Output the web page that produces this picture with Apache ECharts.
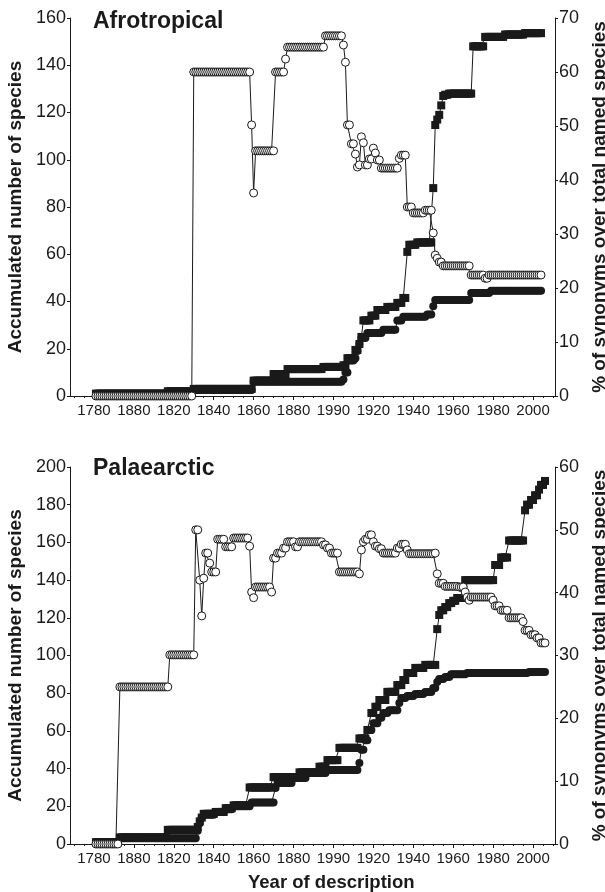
<!DOCTYPE html>
<html>
<head>
<meta charset="utf-8">
<script src="https://cdn.jsdelivr.net/npm/echarts@6/dist/echarts.min.js"></script>
<style>
html, body { margin: 0; padding: 0; background: #fff; }
#chart { width: 605px; height: 892px; }
</style>
</head>
<body>
<div id="chart"></div>
<script>
// x ticks and the labels as printed on the figure
var tickYears = [1780, 1800, 1820, 1840, 1860, 1880, 1900, 1920, 1940, 1960, 1980, 2000];
var tickLabels = ['1780', '1880', '1820', '1840', '1860', '1880', '1990', '1920', '1940', '1960', '1980', '2000'];

// series as runs: [fromYear, toYear, value]
// Afrotropical
var afroTotal = [[1781,1816,1],[1817,1829,2],[1830,1859,3],[1860,1869,6.5],[1870,1876,9.3],[1877,1894,11.4],[1895,1904,12.3],
  [1905,1906,13],[1907,1910,16],[1911,1912,19.5],[1913,1913,22],[1914,1914,25],[1915,1918,32],[1919,1921,34],[1922,1926,36.4],
  [1927,1931,37.7],[1932,1934,39.4],[1935,1936,41.5],[1937,1937,61],[1938,1941,64],[1942,1949,65],[1950,1950,88],[1951,1951,114.7],
  [1952,1952,117],[1953,1953,119],[1954,1954,123],[1955,1955,127],[1956,1957,127.5],[1958,1969,128],[1970,1975,148],
  [1976,1985,152],[1986,1995,153],[1996,2004,153.6]];
var afroValid = [[1781,1829,0.5],[1830,1859,2.5],[1860,1904,6],[1905,1905,7],[1906,1907,10],[1908,1910,15],[1911,1911,16],
  [1912,1912,19],[1913,1913,22],[1914,1916,24.5],[1917,1924,26.7],[1925,1931,28],[1932,1934,32],[1935,1946,33.5],
  [1947,1949,34.5],[1950,1950,38],[1951,1968,40.6],[1969,1978,43.6],[1979,2004,44.5]];
var afroSyn = [[1781,1829,0],[1830,1858,60],[1859,1859,50.2],[1860,1860,37.6],[1861,1870,45.4],[1871,1875,60],[1876,1876,62.4],
  [1877,1895,64.6],[1896,1904,66.7],[1905,1905,65],[1906,1906,61.8],[1907,1908,50.2],[1909,1910,46.7],[1911,1911,44.8],
  [1912,1912,42.4],[1913,1913,42.8],[1914,1914,48],[1915,1915,46.9],[1916,1917,42.8],[1918,1919,43.9],[1920,1920,45.9],
  [1921,1921,45],[1922,1923,43.7],[1924,1932,42.2],[1933,1933,44],[1934,1936,44.6],[1937,1939,35],[1940,1945,33.9],
  [1946,1949,34.4],[1950,1950,30.2],[1951,1951,26.1],[1952,1952,25.5],[1953,1954,24.8],[1955,1968,24.1],[1969,1975,22.4],
  [1976,1977,21.8],[1978,2004,22.4]];

// Palaearctic
var palTotal = [[1781,1792,1],[1793,1816,3.5],[1817,1831,7.5],[1832,1832,9],[1833,1833,12],[1834,1834,14],[1835,1840,16],
  [1841,1845,17],[1846,1849,19],[1850,1857,20.5],[1858,1869,30],[1870,1882,35.5],[1883,1892,38],[1893,1896,41],[1897,1902,44.5],
  [1903,1912,51],[1913,1916,56],[1917,1918,60.5],[1919,1920,69.5],[1921,1922,72.8],[1923,1926,76.4],[1927,1931,80.7],
  [1932,1934,84.3],[1935,1936,87],[1937,1940,90.7],[1941,1945,93.4],[1946,1951,95],[1952,1952,114],[1953,1953,121.5],
  [1954,1955,124],[1956,1957,125.7],[1958,1959,127.8],[1960,1961,129],[1962,1964,130.5],[1965,1965,136],[1966,1980,140],
  [1981,1983,148],[1984,1987,152],[1988,1995,161],[1996,1996,177],[1997,1998,180],[1999,2000,182.5],[2001,2002,185],
  [2003,2003,188],[2004,2005,190.5],[2006,2006,192.6]];
var palValid = [[1781,1792,0.5],[1793,1831,3],[1832,1832,7],[1833,1833,11],[1834,1834,14],[1835,1840,15.5],[1841,1845,17],
  [1846,1849,18.5],[1850,1858,20],[1859,1870,22],[1871,1871,29.7],[1872,1879,32.4],[1880,1886,35],[1887,1896,37.6],
  [1897,1912,39.3],[1913,1913,43],[1914,1915,50],[1916,1917,55],[1918,1919,60.5],[1920,1922,64],[1923,1924,67],
  [1925,1927,69.5],[1928,1932,71],[1933,1933,74.8],[1934,1936,77.5],[1937,1940,78.5],[1941,1945,79.6],[1946,1949,80.7],
  [1950,1951,82.8],[1952,1952,86],[1953,1955,87.5],[1956,1958,88.6],[1959,1966,90],[1967,1997,90.7],[1998,2006,91.2]];
var palSyn = [[1781,1792,0],[1793,1817,25],[1818,1830,30.1],[1831,1832,50],[1833,1833,42],[1834,1834,36.3],[1835,1835,42.3],
  [1836,1837,46.3],[1838,1838,44.7],[1839,1841,43.3],[1842,1845,48.5],[1846,1849,47.3],[1850,1857,48.7],[1858,1858,47.4],
  [1859,1859,40.1],[1860,1860,39.2],[1861,1868,40.9],[1869,1869,40.1],[1870,1871,45.5],[1872,1874,46.3],[1875,1876,47.1],
  [1877,1880,48.1],[1881,1882,47.3],[1883,1894,48.1],[1895,1896,47.6],[1897,1898,47.1],[1899,1902,46.3],[1903,1912,43.3],
  [1913,1913,43],[1914,1914,46.8],[1915,1915,48.1],[1916,1917,48.5],[1918,1919,49.2],[1920,1920,48.1],[1921,1922,47.4],
  [1923,1924,47],[1925,1931,46.3],[1932,1933,47.1],[1934,1936,47.7],[1937,1937,46.8],[1938,1950,46.2],[1951,1951,46.3],
  [1952,1952,43],[1953,1955,41.5],[1956,1962,41],[1963,1965,40.9],[1966,1966,40.1],[1967,1967,39.3],[1968,1968,38.8],
  [1969,1979,39.3],[1980,1980,38.8],[1981,1983,37.9],[1984,1987,37.2],[1988,1994,36],[1995,1995,35.4],[1996,1998,34],
  [1999,2001,33.3],[2002,2003,32.8],[2004,2006,32]];

var FONT = '"Liberation Sans", Arial, sans-serif';
var INK = '#1a1a1a';

// one point per year inside each run
function expand(runs) {
  var pts = [];
  runs.forEach(function (r) {
    for (var y = r[0]; y <= r[1]; y++) pts.push([y, r[2]]);
  });
  return pts;
}

var minorYears = [];
for (var m = 1770; m <= 2010; m += 5) minorYears.push(m);

function mainX(grid) {
  return {
    type: 'value', gridIndex: grid, min: 1768, max: 2011,
    axisLine: { lineStyle: { color: INK, width: 1 } },
    axisTick: { customValues: tickYears, length: 4, lineStyle: { color: INK } },
    axisLabel: {
      customValues: tickYears, margin: 7, fontSize: 15, color: INK, fontFamily: FONT,
      formatter: function (v) { return tickLabels[tickYears.indexOf(v)]; }
    },
    splitLine: { show: false }
  };
}
function minorX(grid) {
  return {
    type: 'value', gridIndex: grid, min: 1768, max: 2011, position: 'bottom',
    axisLine: { show: false },
    axisTick: { customValues: minorYears, length: 2, lineStyle: { color: INK } },
    axisLabel: { show: false },
    splitLine: { show: false }
  };
}
function yAx(grid, pos, max, step, name) {
  return {
    type: 'value', gridIndex: grid, position: pos, min: 0, max: max, interval: step,
    name: name, nameLocation: 'middle', nameRotate: 90, nameGap: pos === 'left' ? 44 : 17,
    nameTextStyle: { fontSize: 19, fontWeight: 'bold', color: INK, fontFamily: FONT },
    axisLine: { show: true, lineStyle: { color: INK, width: 1 } },
    axisTick: { show: true, length: 3, lineStyle: { color: INK } },
    axisLabel: { margin: 4, fontSize: 18, color: INK, fontFamily: FONT },
    splitLine: { show: false }
  };
}
function squares(x, y, runs) {
  return {
    type: 'line', xAxisIndex: x, yAxisIndex: y, data: expand(runs), z: 2,
    symbol: 'rect', symbolSize: 8, showAllSymbol: true,
    itemStyle: { color: INK }, lineStyle: { color: INK, width: 1 }
  };
}
function dots(x, y, runs) {
  return {
    type: 'line', xAxisIndex: x, yAxisIndex: y, data: expand(runs), z: 3,
    symbol: 'circle', symbolSize: 8, showAllSymbol: true,
    itemStyle: { color: INK }, lineStyle: { color: INK, width: 1 }
  };
}
function rings(x, y, runs) {
  return {
    type: 'line', xAxisIndex: x, yAxisIndex: y, data: expand(runs), z: 4,
    symbol: 'circle', symbolSize: 8, showAllSymbol: true,
    itemStyle: { color: '#fff', borderColor: INK, borderWidth: 1 },
    lineStyle: { color: INK, width: 1 }
  };
}

var chart = echarts.init(document.getElementById('chart'));
chart.setOption({
  animation: false,
  backgroundColor: '#fff',
  title: [
    { text: 'Afrotropical', left: 93, top: 10, padding: 0,
      textStyle: { fontSize: 23, fontWeight: 'bold', color: INK, fontFamily: FONT } },
    { text: 'Palaearctic', left: 93, top: 457, padding: 0,
      textStyle: { fontSize: 23, fontWeight: 'bold', color: INK, fontFamily: FONT } },
    { text: 'Year of description', left: 248, top: 873, padding: 0,
      textStyle: { fontSize: 18.5, fontWeight: 'bold', color: INK, fontFamily: FONT } }
  ],
  grid: [
    { left: 70, right: 50, top: 18, height: 378, outerBoundsMode: 'none' },
    { left: 70, right: 50, top: 467, height: 377, outerBoundsMode: 'none' }
  ],
  xAxis: [mainX(0), minorX(0), mainX(1), minorX(1)],
  yAxis: [
    yAx(0, 'left', 160, 20, 'Accumulated number of species'),
    yAx(0, 'right', 70, 10, '% of synonyms over total named species'),
    yAx(1, 'left', 200, 20, 'Accumulated number of species'),
    yAx(1, 'right', 60, 10, '% of synonyms over total named species')
  ],
  series: [
    squares(0, 0, afroTotal),
    dots(0, 0, afroValid),
    rings(0, 1, afroSyn),
    squares(2, 2, palTotal),
    dots(2, 2, palValid),
    rings(2, 3, palSyn)
  ]
});
</script>
</body>
</html>
